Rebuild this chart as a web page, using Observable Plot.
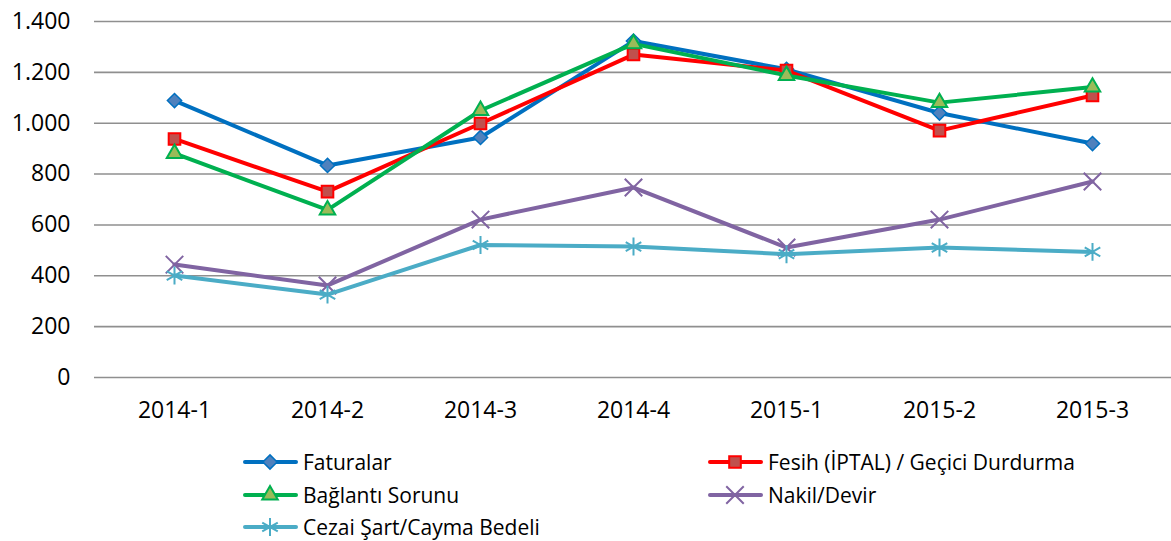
<!DOCTYPE html>
<html><head><meta charset="utf-8">
<script src="https://cdn.jsdelivr.net/npm/d3@7"></script>
<script src="https://cdn.jsdelivr.net/npm/@observablehq/plot@0.6"></script>
<style>
body{margin:0;background:#fff;font-family:"Open Sans",sans-serif;}
#wrap{position:relative;width:1171px;height:541px;}
#legend{position:absolute;left:0;top:0;width:1171px;height:541px;pointer-events:none;}
.item{position:absolute;display:flex;align-items:center;font-size:21px;color:#000;height:26px;white-space:nowrap;}
.item svg{display:block;margin-right:5px;}
</style>
</head><body><div id="wrap"><div id="chart"></div><div id="legend"></div></div>
<script>
const periods = ["2014-1", "2014-2", "2014-3", "2014-4", "2015-1", "2015-2", "2015-3"];
const faturalar = [1089, 834, 944, 1323, 1212, 1040, 920];
const fesih = [938, 731, 999, 1270, 1207, 971, 1109];
const baglanti = [881, 659, 1050, 1312, 1188, 1081, 1142];
const nakil = [444, 362, 621, 747, 511, 621, 771];
const cezai = [401, 326, 521, 515, 485, 511, 494];
const seriesNames = ["Faturalar", "Fesih (İPTAL) / Geçici Durdurma", "Bağlantı Sorunu", "Nakil/Devir", "Cezai Şart/Cayma Bedeli"];
const yTicks = [0, 200, 400, 600, 800, 1000, 1200, 1400];

const styles = [
  {values: faturalar, line: "#0070C0", symbol: "diamond2", fill: "#4F81BD", stroke: "#0070C0", r: 6.4, sw: 1.5},
  {values: fesih, line: "#FF0000", symbol: "square2", fill: "#C0504D", stroke: "#FF0000", r: 7.4, sw: 2},
  {values: baglanti, line: "#00B050", symbol: "triangle2", fill: "#9BBB59", stroke: "#00B050", r: 7.4, sw: 2},
  {values: nakil, line: "#8064A2", symbol: "times", fill: "none", stroke: "#8064A2", r: 8, sw: 2},
  {values: cezai, line: "#4BACC6", symbol: "asterisk", fill: "none", stroke: "#4BACC6", r: 8.5, sw: 2}
];

const fmtLocale = d3.formatLocale({decimal: ",", thousands: ".", grouping: [3], currency: ["", ""]});
const fmt = fmtLocale.format(",d");

const marks = [
  Plot.gridY(yTicks, {stroke: "#8f8f8f", strokeOpacity: 1, strokeWidth: 1.6}),
  Plot.axisY(yTicks, {tickSize: 0, tickPadding: 24, tickFormat: fmt, fontSize: 23, fill: "#000", label: null}),
  Plot.axisX(periods, {tickSize: 0, tickPadding: 24, fontSize: 23, fill: "#000", label: null})
];
styles.forEach((s, i) => {
  const data = periods.map((p, j) => ({period: p, value: s.values[j], series: seriesNames[i]}));
  marks.push(Plot.line(data, {x: "period", y: "value", stroke: s.line, strokeWidth: 4, strokeLinejoin: "round"}));
  marks.push(Plot.dot(data, {x: "period", y: "value", symbol: () => s.symbol, fill: s.fill, stroke: s.stroke, strokeWidth: s.sw, r: s.r}));
});

const chart = Plot.plot({
  width: 1171,
  height: 440,
  marginLeft: 94,
  marginRight: 0,
  marginTop: 21,
  marginBottom: 63,
  style: {fontFamily: '"Open Sans", sans-serif', background: "#fff"},
  x: {type: "point", domain: periods, padding: 0.5, axis: null, label: null},
  y: {domain: [0, 1400], axis: null, label: null},
  symbol: {type: "identity"},
  marks
});
document.getElementById("chart").appendChild(chart);

// Legend
const legend = d3.select("#legend");
const pos = [[243, 462], [708, 462], [243, 495], [708, 495], [243, 527]];
const symMap = {diamond2: d3.symbolDiamond2, square2: d3.symbolSquare2, triangle2: d3.symbolTriangle2, times: d3.symbolTimes, asterisk: d3.symbolAsterisk};
styles.forEach((s, i) => {
  const item = legend.append("div").attr("class", "item")
    .style("left", pos[i][0] + "px").style("top", (pos[i][1] - 13) + "px");
  const svg = item.append("svg").attr("width", 55).attr("height", 26);
  svg.append("line").attr("x1", 2).attr("x2", 53).attr("y1", 13).attr("y2", 13)
    .attr("stroke", s.line).attr("stroke-width", 4).attr("stroke-linecap", "round");
  svg.append("path").attr("transform", "translate(27,13)")
    .attr("d", d3.symbol(symMap[s.symbol], s.r * s.r * Math.PI)())
    .attr("fill", s.fill).attr("stroke", s.stroke).attr("stroke-width", s.sw);
  item.append("span").text(seriesNames[i]);
});
</script></body></html>
